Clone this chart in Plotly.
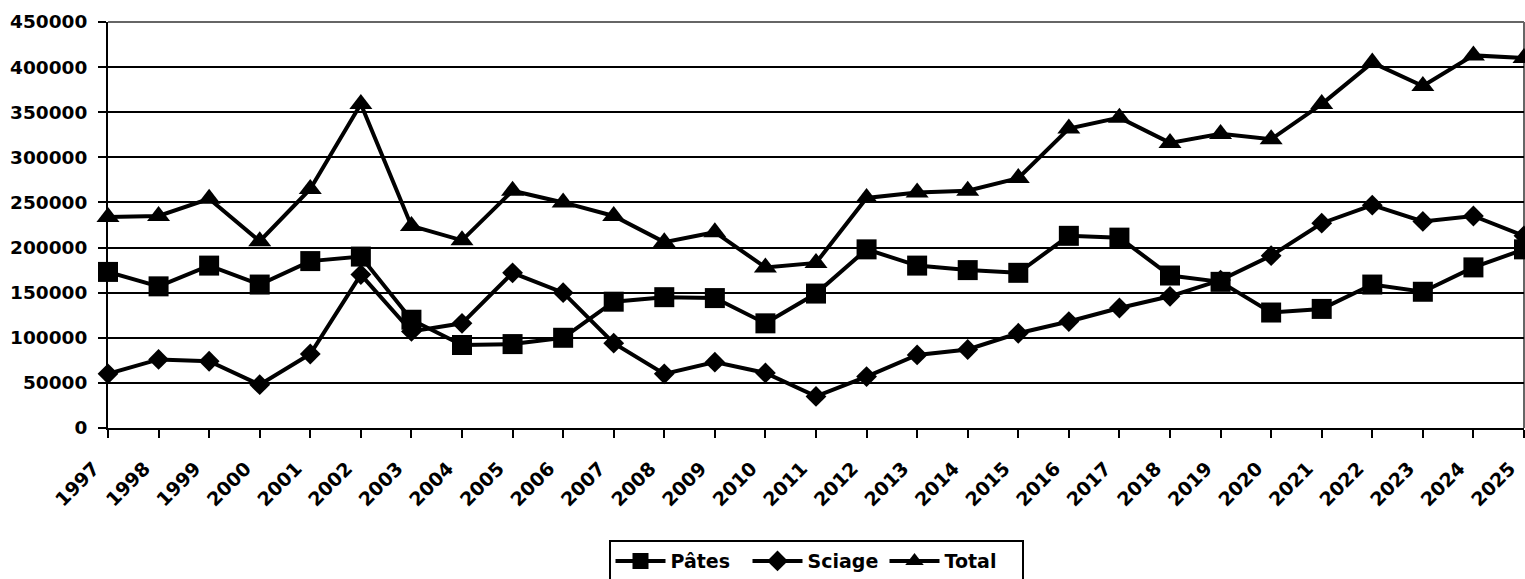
import plotly.graph_objects as go

years = list(range(1997, 2026))
pates = [173000, 157000, 180000, 159000, 185000, 190000, 120000, 92000, 93000, 100000,
         140000, 145000, 144000, 116000, 149000, 198000, 180000, 175000, 172000, 213000,
         211000, 169000, 162000, 128000, 132000, 159000, 151000, 178000, 198000]
sciage = [60000, 76000, 74000, 48000, 82000, 170000, 107000, 116000, 172000, 150000,
          94000, 60000, 73000, 61000, 35000, 57000, 81000, 87000, 105000, 118000,
          133000, 146000, 164000, 191000, 227000, 247000, 229000, 235000, 213000]
total = [234000, 235000, 254000, 207000, 265000, 359000, 224000, 208000, 263000, 250000,
         235000, 206000, 217000, 178000, 183000, 255000, 261000, 263000, 277000, 332000,
         344000, 316000, 326000, 320000, 359000, 405000, 379000, 413000, 410000]
y_ticks = [0, 50000, 100000, 150000, 200000, 250000, 300000, 350000, 400000, 450000]

font_y = dict(family="DejaVu Sans", size=18.5, color="black", weight="bold")
font_x = dict(family="DejaVu Sans", size=19, color="black", weight="bold")
font_leg = dict(family="DejaVu Sans", size=19, color="black", weight="bold")

fig = go.Figure()
series = [("Pâtes", pates, "square", 20), ("Sciage", sciage, "diamond", 16), ("Total", total, "triangle-up", 20)]
for name, vals, sym, sz in series:
    fig.add_trace(go.Scatter(
        x=years, y=vals, name=name, mode="lines+markers",
        line=dict(color="black", width=4),
        marker=dict(symbol=sym, size=sz, color="black"),
        cliponaxis=False,
    ))

fig.update_layout(
    width=1525, height=579,
    margin=dict(l=108, r=1, t=22, b=151, autoexpand=False),
    paper_bgcolor="white", plot_bgcolor="white",
    showlegend=True,
    legend=dict(orientation="h", x=0.5, xanchor="center", y=-0.276, yanchor="top",
                font=font_leg, bordercolor="black", borderwidth=2, bgcolor="white",
                itemwidth=50, entrywidth=72, entrywidthmode="pixels"),
    xaxis=dict(range=[1997, 2025.0001], tickmode="array", tickvals=years,
               ticktext=[str(y) for y in years], tickangle=-45,
               tickfont=font_x, showgrid=False, zeroline=False,
               showline=True, linecolor="black", linewidth=2,
               ticks="outside", ticklen=8, tickwidth=2, tickcolor="black",
               ticklabelstandoff=12, ticklabelshift=-14, ticklabeloverflow="allow",
               automargin=False),
    yaxis=dict(range=[0, 450000], tickmode="array", tickvals=y_ticks,
               ticktext=[str(v) for v in y_ticks],
               tickfont=font_y, showgrid=True, gridcolor="black", gridwidth=2,
               zeroline=False, showline=True, linecolor="black", linewidth=2,
               ticks="outside", ticklen=8, tickwidth=2, tickcolor="black",
               ticklabelstandoff=7, automargin=False),
)
fig.add_shape(type="line", xref="paper", yref="paper", x0=0, x1=1, y0=1, y1=1,
              line=dict(color="#666666", width=2), layer="below")
fig.add_shape(type="line", xref="paper", yref="paper", x0=1, x1=1, y0=0, y1=1,
              line=dict(color="#666666", width=2), layer="below")

fig.write_html("out.html", config={"displayModeBar": False},
               post_script="document.body.style.margin='0px';document.body.style.overflow='hidden';")
